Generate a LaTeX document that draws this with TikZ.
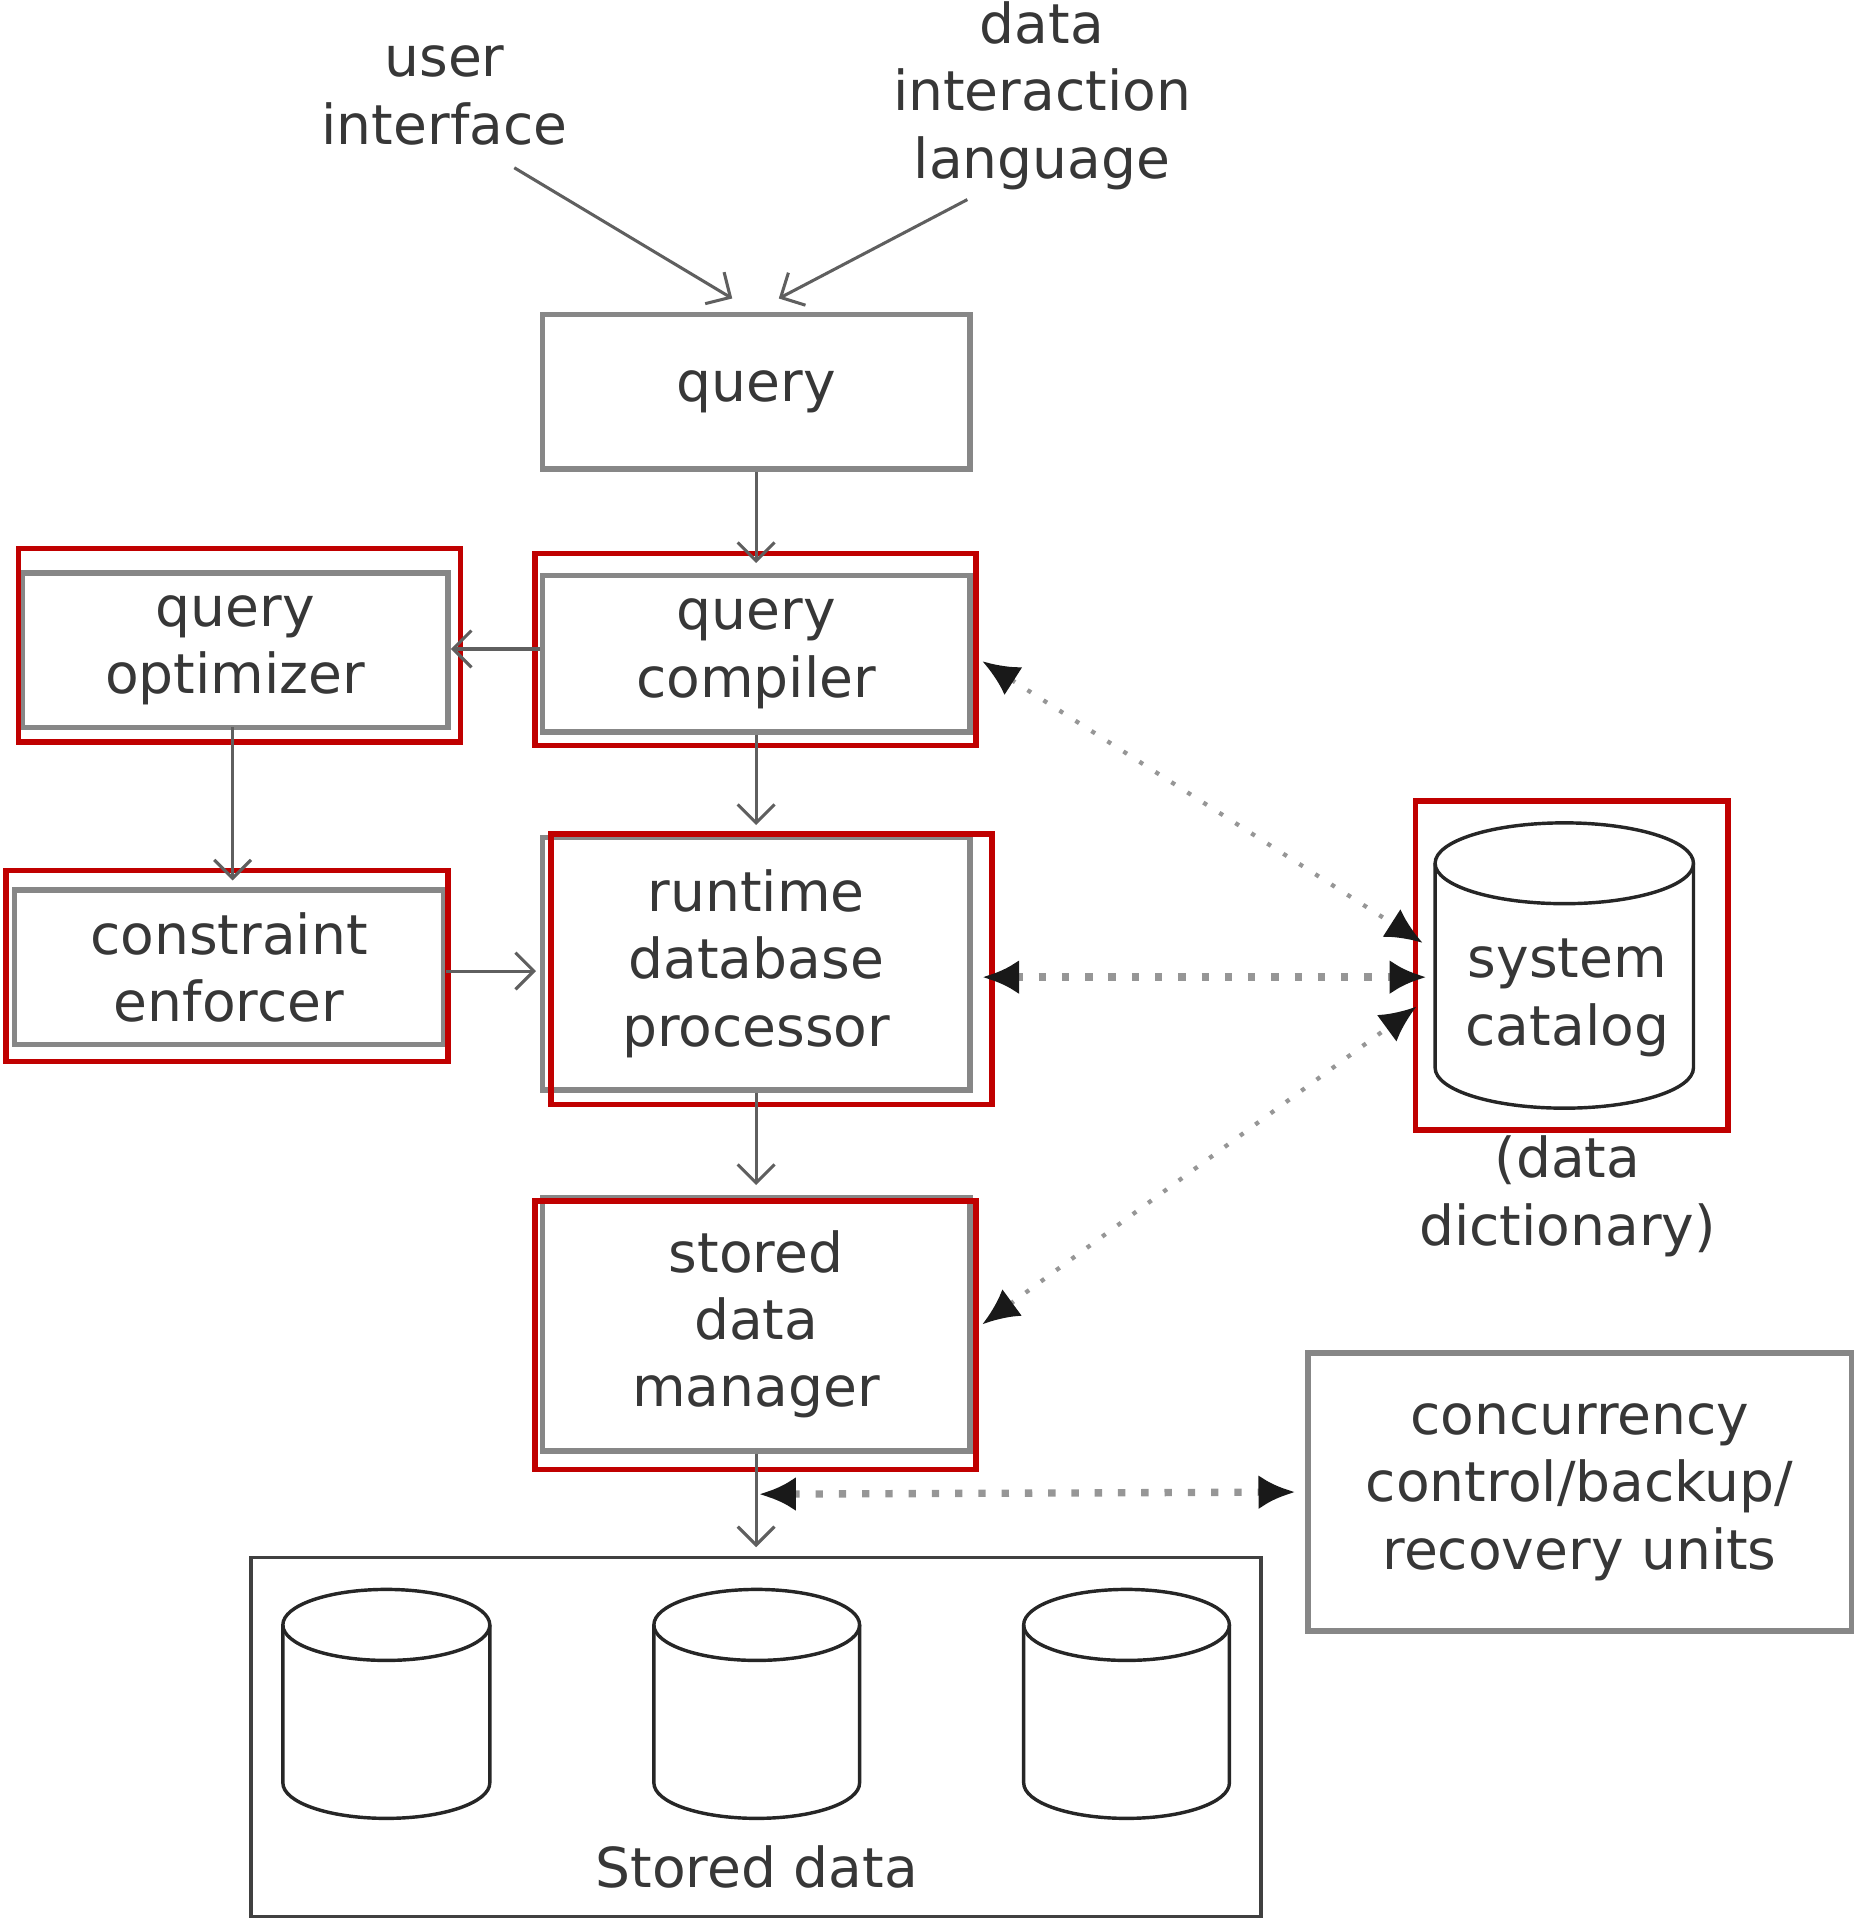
\documentclass[tikz,border=0pt]{standalone}
\usepackage{fontspec}
\setmainfont{DejaVu Sans}
\usetikzlibrary{arrows.meta}
\definecolor{redframe}{RGB}{192,0,0}
\definecolor{txt}{RGB}{55,55,55}
\definecolor{boxline}{RGB}{135,135,135}
\definecolor{arrline}{RGB}{95,95,95}
\definecolor{dotline}{RGB}{150,150,150}
\begin{document}
\begin{tikzpicture}[x=1pt,y=-1pt,
  lbl/.style={font=\fontsize{45}{55}\selectfont, text=txt, align=center, inner sep=0pt},
  gbox/.style={lbl, draw=boxline, line width=4.5pt, fill=white},
  redbox/.style={draw=redframe, line width=4.5pt, inner sep=0pt},
  cyl/.style={draw=black!85, line width=2.8pt},
  arr/.style={draw=arrline, line width=2.5pt, -{Straight Barb[length=15pt,width=30pt]}},
  dotsthin/.style={draw=dotline, line width=3.5pt, dash pattern=on 3.5pt off 12pt, {Latex[length=30pt,width=27pt,color=black!90]}-{Latex[length=30pt,width=27pt,color=black!90]}},
  dotsbold/.style={draw=dotline, line width=6pt, dash pattern=on 6pt off 13pt, {Latex[length=30pt,width=28pt,color=black!90]}-{Latex[length=30pt,width=28pt,color=black!90]}}
]
\useasboundingbox (0,0) rectangle (1516,1568);

% labels on top
\node[lbl] (ui) at (363,78) {user\\interface};
\node[lbl] (dil) at (851,78) {data\\interaction\\language};
\coordinate (uiS) at (420,137);
\coordinate (dilS) at (790,163);

% boxes
\node[gbox, minimum width=349pt, minimum height=126pt] (query) at (617.5,320) {query};
\node[gbox, minimum width=349pt, minimum height=128pt] (compiler) at (617.5,534) {query\\compiler};
\node[gbox, minimum width=348pt, minimum height=126pt] (optimizer) at (192,531) {query\\optimizer};
\node[gbox, minimum width=350pt, minimum height=126pt] (constraint) at (187,790) {constraint\\enforcer};
\node[gbox, minimum width=349pt, minimum height=206pt] (runtime) at (617.5,787) {runtime\\database\\processor};
\node[gbox, minimum width=349pt, minimum height=207pt] (manager) at (617.5,1081.5) {stored\\data\\manager};
\node[gbox, minimum width=444pt, minimum height=227pt] (conc) at (1290,1218.5) {concurrency\\control/backup/\\recovery units};
\node[draw=black!75, line width=3pt, minimum width=825pt, minimum height=293pt, inner sep=0pt] (stored) at (617.5,1418.5) {};
\node[lbl] (storedtxt) at (618,1525) {Stored data};

% system catalog cylinder
\node[minimum width=211pt, minimum height=233pt, inner sep=0pt] (catalog) at (1277.5,788.5) {};
\draw[cyl] (1172,705) -- (1172,872) arc (180:360:105.5pt and 33pt) -- (1383,705);
\draw[cyl] (1277.5,705) ellipse [x radius=105.5pt, y radius=33pt];
\node[lbl] (catalogtxt) at (1280,815) {system\\catalog};
\node[lbl] (dict) at (1280,977) {(data\\dictionary)};

% stored data cylinders
\foreach \cx/\rx in {315.5/84.5, 618/84, 920/84}{
  \draw[cyl] (\cx-\rx,1327) -- (\cx-\rx,1456) arc (180:360:\rx pt and 29pt) -- (\cx+\rx,1327);
  \draw[cyl] (\cx,1327) ellipse [x radius=\rx pt, y radius=29pt];
}

% red frames
\node[redbox, minimum width=360pt, minimum height=157pt] (compilerR) at (617,530.5) {};
\node[redbox, minimum width=361pt, minimum height=158pt] (optimizerR) at (195.5,527) {};
\node[redbox, minimum width=361pt, minimum height=156pt] (constraintR) at (185.5,789) {};
\node[redbox, minimum width=360pt, minimum height=221pt] (runtimeR) at (630,791.5) {};
\node[redbox, minimum width=360pt, minimum height=219pt] (managerR) at (617,1090.5) {};
\node[redbox, minimum width=255pt, minimum height=269pt] (catalogR) at (1283.5,788.5) {};

% solid arrows
\draw[arr] (uiS) -- ([xshift=-19.5pt,yshift=11pt]query.north);
\draw[arr] (dilS) -- ([xshift=18.5pt,yshift=11pt]query.north);
\draw[arr] (query.south) -- ([yshift=8pt]compiler.north);
\draw[arr] (compiler.west |- 0,530) -- (optimizer.east |- 0,530);
\draw[arr] (190,594) -- (190,719);
\draw[arr] (compiler.south) -- ([yshift=8pt]runtime.north);
\draw[arr] (constraint.east |- 0,793) -- ([xshift=-3pt]runtime.west |- 0,793);
\draw[arr] (runtime.south) -- ([yshift=8pt]manager.north);
\draw[arr] (manager.south) -- ([yshift=7pt]stored.north);

% dotted bidirectional arrows
\draw[dotsthin] ([xshift=8pt,yshift=-6pt]compiler.east) -- ([xshift=-10pt,yshift=18.5pt]catalog.west);
\draw[dotsbold] ([xshift=8pt,yshift=-11pt]runtime.east) -- ([xshift=-7pt,yshift=-9.5pt]catalog.west);
\draw[dotsthin] ([xshift=8pt]manager.east) -- ([xshift=-15pt,yshift=-33.5pt]catalog.west);
\draw[dotsbold] ([xshift=2.5pt,yshift=-33pt]manager.south) -- ([xshift=-8pt]conc.west);
\end{tikzpicture}
\end{document}
